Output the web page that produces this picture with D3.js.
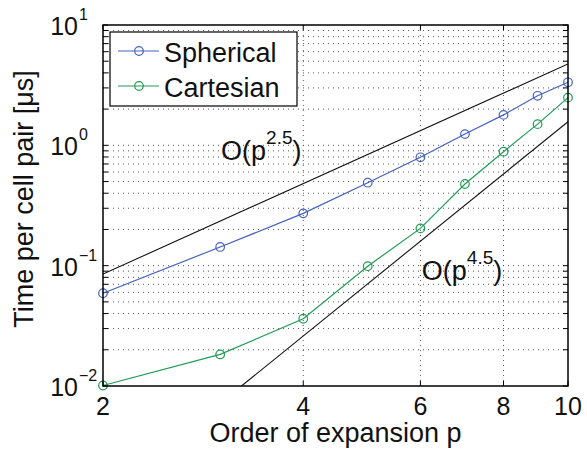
<!DOCTYPE html>
<html lang="en">
<head>
    <meta charset="UTF-8">
    <title>Time per cell pair vs order of expansion</title>
    <style>
        body { margin: 0; background: #fff; }
        svg { display: block; font-family: "Liberation Sans", Arial, sans-serif; }
        .grid line { stroke: #555; stroke-width: 1; stroke-dasharray: 1,4; }
    </style>
</head>
<body>
    <div id="chart"></div>

    <script src="https://d3js.org/d3.v7.min.js"></script>

    <script>
        const orders = [2, 3, 4, 5, 6, 7, 8, 9, 10];
        const spherical = [0.059, 0.143, 0.272, 0.489, 0.795, 1.24, 1.79, 2.58, 3.34];
        const cartesian = [0.0101, 0.0183, 0.0362, 0.099, 0.204, 0.477, 0.885, 1.50, 2.49];

        // Reference slope lines (end points)
        const refUpper = [[2, 0.0851], [10, 4.75]];   // O(p^2.5)
        const refLower = [[3.23, 0.01], [10, 1.57]];  // O(p^4.5)

        const xTicks = [2, 4, 6, 8, 10];
        const yExponents = [-2, -1, 0, 1];

        const width = 587, height = 449;
        const margin = {left: 103, right: 19, top: 25, bottom: 63};
        const innerW = width - margin.left - margin.right;
        const innerH = height - margin.top - margin.bottom;

        const x = d3.scaleLog().domain([2, 10]).range([0, innerW]);
        const y = d3.scaleLog().domain([0.01, 10]).range([innerH, 0]);

        const svg = d3.select("#chart").append("svg")
            .attr("width", width)
            .attr("height", height);

        const g = svg.append("g")
            .attr("transform", `translate(${margin.left},${margin.top})`);

        g.append("clipPath").attr("id", "clip")
            .append("rect").attr("width", innerW).attr("height", innerH);

        // minor y values for grid + ticks
        const yMinor = [];
        yExponents.forEach(e => {
            for (let k = 1; k <= 9; k++) {
                const v = k * Math.pow(10, e);
                if (v >= 0.01 && v <= 10) yMinor.push(v);
            }
        });

        // dotted grid
        const grid = g.append("g").attr("class", "grid");
        grid.selectAll(".gy").data(yMinor.filter(v => v > 0.01 && v < 10)).enter()
            .append("line")
            .attr("x1", 0).attr("x2", innerW)
            .attr("y1", d => y(d)).attr("y2", d => y(d));
        grid.selectAll(".gx").data(xTicks.filter(v => v > 2 && v < 10)).enter()
            .append("line")
            .attr("y1", 0).attr("y2", innerH)
            .attr("x1", d => x(d)).attr("x2", d => x(d));

        // tick marks (inside, on all four sides)
        const ticks = g.append("g").attr("stroke", "#000").attr("stroke-width", 1);
        const tl = 5;
        yMinor.forEach(v => {
            ticks.append("line").attr("x1", 0).attr("x2", tl).attr("y1", y(v)).attr("y2", y(v));
            ticks.append("line").attr("x1", innerW).attr("x2", innerW - tl).attr("y1", y(v)).attr("y2", y(v));
        });
        xTicks.forEach(v => {
            ticks.append("line").attr("x1", x(v)).attr("x2", x(v)).attr("y1", innerH).attr("y2", innerH - tl);
            ticks.append("line").attr("x1", x(v)).attr("x2", x(v)).attr("y1", 0).attr("y2", tl);
        });

        // reference lines
        const line = d3.line().x(d => x(d[0])).y(d => y(d[1]));
        const refs = g.append("g").attr("clip-path", "url(#clip)");
        [refUpper, refLower].forEach(r => {
            refs.append("path").attr("d", line(r))
                .attr("fill", "none").attr("stroke", "#111").attr("stroke-width", 1.1);
        });

        // data series
        const series = [
            {name: "Spherical", values: spherical, color: "#4462bd"},
            {name: "Cartesian", values: cartesian, color: "#229a55"}
        ];
        const seriesLine = d3.line().x(d => x(d.p)).y(d => y(d.t));
        series.forEach(s => {
            const pts = orders.map((p, i) => ({p: p, t: s.values[i]}));
            g.append("path").attr("d", seriesLine(pts))
                .attr("fill", "none").attr("stroke", s.color).attr("stroke-width", 1.2);
            g.selectAll(null).data(pts).enter().append("circle")
                .attr("cx", d => x(d.p)).attr("cy", d => y(d.t)).attr("r", 4.3)
                .attr("fill", "none").attr("stroke", s.color).attr("stroke-width", 1.2);
        });

        // frame
        g.append("rect").attr("width", innerW).attr("height", innerH)
            .attr("fill", "none").attr("stroke", "#000").attr("stroke-width", 1.5);

        // x tick labels
        g.selectAll(".xl").data(xTicks).enter().append("text")
            .attr("x", d => x(d)).attr("y", innerH + 29)
            .attr("text-anchor", "middle").attr("font-size", 25).attr("fill", "#111")
            .text(d => d);

        // y tick labels: 10 with exponent
        yExponents.forEach(e => {
            const yy = y(Math.pow(10, e));
            g.append("text").attr("x", -25).attr("y", yy + 10)
                .attr("text-anchor", "end").attr("font-size", 25).attr("fill", "#111")
                .text("10");
            g.append("text").attr("x", -24).attr("y", yy - 5)
                .attr("font-size", 16).attr("fill", "#111")
                .text(e < 0 ? "\u2212" + (-e) : String(e));
        });

        // slope annotations
        function slopeLabel(px, py, exp) {
            const t = g.append("text").attr("x", px).attr("y", py)
                .attr("font-size", 27).attr("fill", "#111");
            t.append("tspan").text("O(p");
            t.append("tspan").attr("font-size", 19).attr("dy", -16).text(exp);
            t.append("tspan").attr("dy", 16).text(")");
        }
        slopeLabel(x(3.01), y(1) + 15, "2.5");
        slopeLabel(x(6.03), y(0.1) + 14, "4.5");

        // legend
        const lg = g.append("g").attr("transform", "translate(7,7)");
        lg.append("rect").attr("width", 187).attr("height", 74)
            .attr("fill", "#fff").attr("stroke", "#000").attr("stroke-width", 1.2);
        series.forEach((s, i) => {
            const cy = 19 + i * 35;
            lg.append("line").attr("x1", 8).attr("x2", 49).attr("y1", cy).attr("y2", cy)
                .attr("stroke", s.color).attr("stroke-width", 1.2);
            lg.append("circle").attr("cx", 29).attr("cy", cy).attr("r", 4.3)
                .attr("fill", "none").attr("stroke", s.color).attr("stroke-width", 1.2);
            lg.append("text").attr("x", 54).attr("y", cy + 11)
                .attr("font-size", 27).attr("fill", "#111").text(s.name);
        });

        // axis titles
        svg.append("text")
            .attr("x", margin.left + innerW / 2).attr("y", 442)
            .attr("text-anchor", "middle").attr("font-size", 27).attr("fill", "#111")
            .text("Order of expansion p");
        svg.append("text")
            .attr("transform", "translate(33,199) rotate(-90)")
            .attr("text-anchor", "middle").attr("font-size", 27).attr("fill", "#111")
            .text("Time per cell pair [\u03bcs]");
    </script>
</body>
</html>
